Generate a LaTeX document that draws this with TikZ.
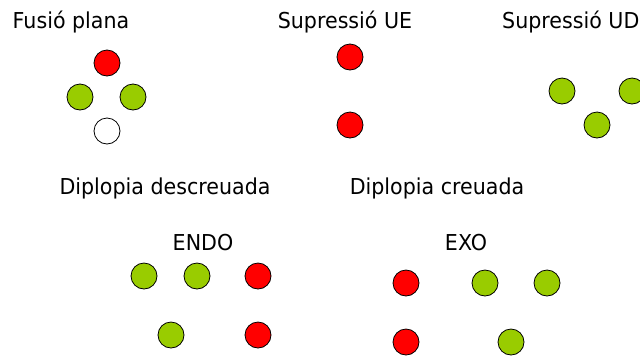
\documentclass[tikz,border=0pt]{standalone}
\usepackage{fontspec}
\setmainfont{DejaVu Sans}[FakeStretch=0.94]
\definecolor{dotred}{HTML}{FF0000}
\definecolor{dotgreen}{HTML}{99CC00}
\begin{document}
\begin{tikzpicture}[x=1bp,y=-1bp,
  lbl/.style={anchor=base,inner sep=0pt,font=\fontsize{22}{26}\selectfont},
  dot/.style={circle,draw=black,line width=0.8bp,minimum size=26bp,inner sep=0pt},
  rd/.style={dot,fill=dotred},
  gr/.style={dot,fill=dotgreen},
  wh/.style={dot,fill=white}]
\clip (0,0) rectangle (640,355);
\useasboundingbox (0,0) rectangle (640,355);
% titles
\node[lbl] (tfus) at (71,28.3) {Fusió plana};
\node[lbl] (tue) at (345,28.3) {Supressió UE};
\node[lbl,anchor=base west] (tud) at (502,28.3) {Supressió UD};
\node[lbl] (tdesc) at (165,194) {Diplopia descreuada};
\node[lbl] (tcre) at (437,194) {Diplopia creuada};
\node[lbl] (tendo) at (203,250.7) {ENDO};
\node[lbl] (texo) at (466,250.7) {EXO};
% Fusio plana
\node[rd] (f1) at (107,63) {};
\node[gr] (f2) at (80,97) {};
\node[gr] (f3) at (133,97) {};
\node[wh] (f4) at (107,131) {};
% Supressio UE
\node[rd] (ue1) at (350,57) {};
\node[rd] (ue2) at (350,125) {};
% Supressio UD
\node[gr] (ud1) at (562,91) {};
\node[gr] (ud2) at (632,91) {};
\node[gr] (ud3) at (597,125) {};
% ENDO
\node[gr] (en1) at (144,276) {};
\node[gr] (en2) at (197,276) {};
\node[rd] (en3) at (258,276) {};
\node[gr] (en4) at (171,335) {};
\node[rd] (en5) at (258,335) {};
% EXO
\node[rd] (ex1) at (406,283) {};
\node[gr] (ex2) at (485,283) {};
\node[gr] (ex3) at (547,283) {};
\node[rd] (ex4) at (406,342) {};
\node[gr] (ex5) at (511,342) {};
\end{tikzpicture}
\end{document}
